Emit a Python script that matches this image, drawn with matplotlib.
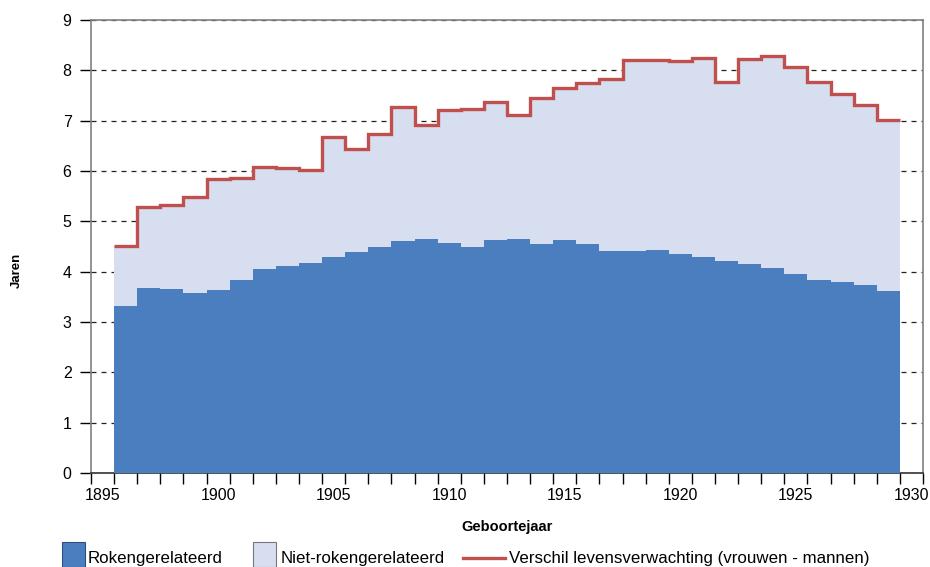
import numpy as np
import matplotlib
matplotlib.use("Agg")
import matplotlib.pyplot as plt
from matplotlib.patches import Rectangle
from matplotlib.lines import Line2D

plt.rcParams['font.family'] = ['Liberation Sans', 'DejaVu Sans']

# geboortejaren 1896-1929
jaren = np.arange(1896, 1930)

# rokengerelateerd deel van het verschil (jaren)
rok = [3.31, 3.67, 3.65, 3.57, 3.64, 3.84, 4.05, 4.11, 4.18, 4.29,
       4.40, 4.50, 4.60, 4.64, 4.56, 4.50, 4.62, 4.65, 4.54, 4.62,
       4.54, 4.41, 4.41, 4.44, 4.35, 4.29, 4.21, 4.16, 4.07, 3.96,
       3.84, 3.79, 3.73, 3.62]

# verschil levensverwachting vrouwen - mannen (jaren)
verschil = [4.51, 5.28, 5.33, 5.48, 5.85, 5.87, 6.08, 6.06, 6.01, 6.68,
            6.44, 6.74, 7.28, 6.91, 7.22, 7.24, 7.37, 7.12, 7.45, 7.65,
            7.75, 7.83, 8.21, 8.21, 8.18, 8.25, 7.76, 8.22, 8.28, 8.06,
            7.77, 7.52, 7.32, 7.02]

blauw = '#4a7ebf'
lichtblauw = '#d6def0'
rood = '#c0504d'

W, H = 930, 567
fig = plt.figure(figsize=(W / 100, H / 100), dpi=100)
ax = fig.add_axes([91 / W, 1 - 473 / H, (923 - 91) / W, (473 - 20) / H])

edges = np.append(jaren - 0.5, jaren[-1] + 0.5)
rok = np.array(rok)
verschil = np.array(verschil)

ax.stairs(verschil, edges, baseline=rok, fill=True, color=lichtblauw, zorder=2)
ax.stairs(rok, edges, baseline=0, fill=True, color=blauw, zorder=3)
ax.stairs(verschil, edges, baseline=None, color=rood, lw=2.4, zorder=4)

ax.set_xlim(1894.5, 1930.5)
ax.set_ylim(0, 9)

# horizontal dashed grid
ax.set_yticks(range(0, 10))
ax.yaxis.grid(True, linestyle=(0, (4, 4)), color='#222222', lw=0.9, zorder=1)
ax.set_axisbelow(True)

ax.set_xticks(range(1895, 1931, 5))
ax.set_xticks(np.arange(1894.5, 1931, 1), minor=True)
ax.tick_params(axis='x', which='major', length=0, pad=11, labelsize=11.5)
ax.tick_params(axis='x', which='minor', length=8, width=1, direction='out', color='black')
ax.tick_params(axis='y', length=8, width=1, direction='out', pad=6, labelsize=11.5, color='black')

for s in ['left', 'top', 'right']:
    ax.spines[s].set_color('#808080')
    ax.spines[s].set_linewidth(1.2)
ax.spines['bottom'].set_color('#333333')
ax.spines['bottom'].set_linewidth(1.2)

fig.text(17 / W, 1 - 270 / H, 'Jaren', rotation=90, fontsize=9.5, fontweight='bold',
         ha='center', va='center')
fig.text(507 / W, 1 - 527 / H, 'Geboortejaar', fontsize=10.5, fontweight='bold',
         ha='center', va='center')

# legenda
ty = 1 - 558 / H
fig.patches.append(Rectangle((62 / W, 1 - 567 / H), 23 / W, 25 / H, transform=fig.transFigure,
                             facecolor=blauw, edgecolor='#2f4f7a', lw=0.8))
fig.text(88 / W, ty, 'Rokengerelateerd', fontsize=12.2, va='center', ha='left')
fig.patches.append(Rectangle((253 / W, 1 - 567 / H), 23 / W, 25 / H, transform=fig.transFigure,
                             facecolor=lichtblauw, edgecolor='#777777', lw=0.8))
fig.text(281 / W, ty, 'Niet-rokengerelateerd', fontsize=12.2, va='center', ha='left')
fig.lines.append(Line2D([463 / W, 505 / W], [ty, ty], transform=fig.transFigure,
                        color=rood, lw=2.4))
fig.text(509 / W, ty, 'Verschil levensverwachting (vrouwen - mannen)', fontsize=12.2,
         va='center', ha='left')

fig.savefig('out.png', dpi=100)
